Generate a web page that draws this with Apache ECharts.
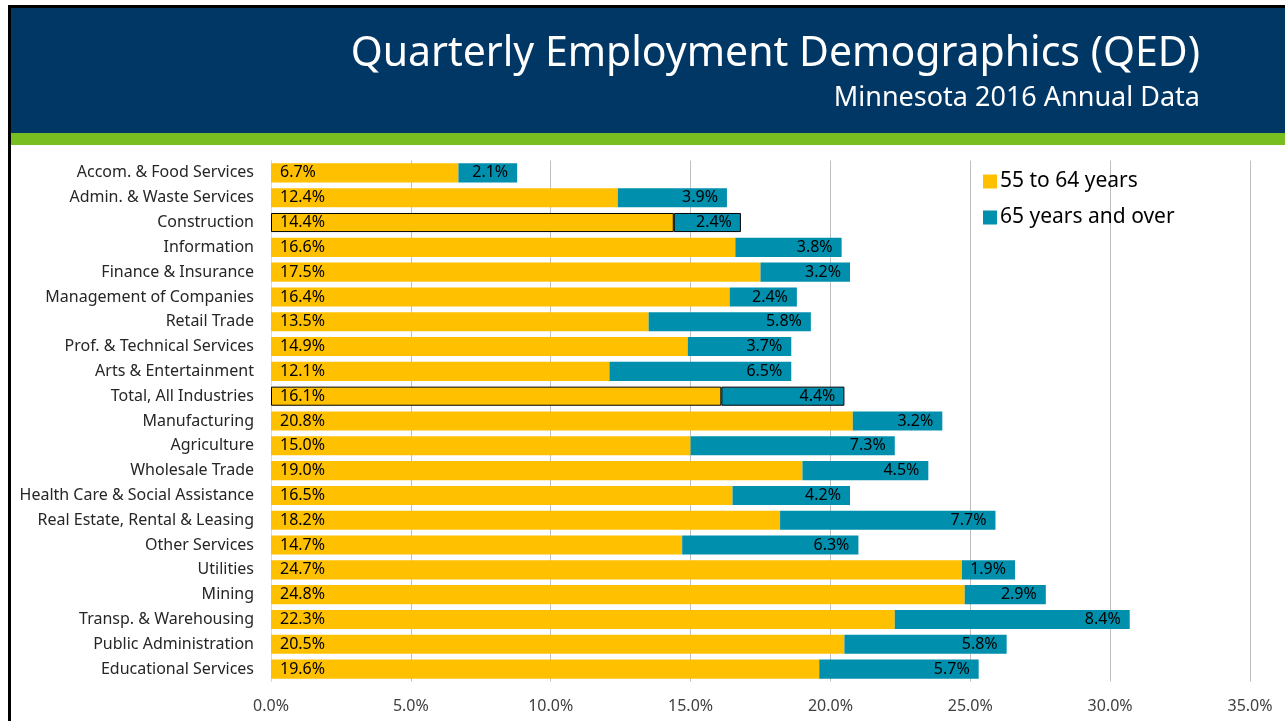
<!DOCTYPE html>
<html>
<head>
<meta charset="utf-8">
<title>Quarterly Employment Demographics (QED)</title>
<script src="https://cdn.jsdelivr.net/npm/echarts@6/dist/echarts.min.js"></script>
<style>
	html, body { margin: 0; padding: 0; background: #fff; }
	#chart { width: 1285px; height: 721px; }
</style>
</head>
<body>
<div id="chart"></div>
<script>
// industries, top to bottom
const industries = [
	"Accom. & Food Services", "Admin. & Waste Services", "Construction", "Information",
	"Finance & Insurance", "Management of Companies", "Retail Trade", "Prof. & Technical Services",
	"Arts & Entertainment", "Total, All Industries", "Manufacturing", "Agriculture",
	"Wholesale Trade", "Health Care & Social Assistance", "Real Estate, Rental & Leasing",
	"Other Services", "Utilities", "Mining", "Transp. & Warehousing", "Public Administration",
	"Educational Services"
];
const age55to64 = [6.7, 12.4, 14.4, 16.6, 17.5, 16.4, 13.5, 14.9, 12.1, 16.1, 20.8, 15.0, 19.0, 16.5, 18.2, 14.7, 24.7, 24.8, 22.3, 20.5, 19.6];
const age65plus = [2.1, 3.9, 2.4, 3.8, 3.2, 2.4, 5.8, 3.7, 6.5, 4.4, 3.2, 7.3, 4.5, 4.2, 7.7, 6.3, 1.9, 2.9, 8.4, 5.8, 5.7];
const seriesNames = ["55 to 64 years", "65 years and over"];
const xTicks = { min: 0, max: 35, step: 5 };
// rows drawn with a black outline
const outlined = ["Construction", "Total, All Industries"];

const FONT = "Noto Sans";
const ORANGE = "#FFC000";
const TEAL = "#008FAD";

function toItems(values) {
	return values.map((v, i) => {
		const item = { value: v };
		if (outlined.indexOf(industries[i]) >= 0) {
			item.itemStyle = { borderColor: "#000", borderWidth: 1 };
		}
		return item;
	});
}
const pct = p => p.value.toFixed(1) + "%";

const myChart = echarts.init(document.getElementById("chart"));
const option = {
	backgroundColor: "#fff",
	animation: false,
	textStyle: { fontFamily: FONT },
	graphic: [
		{ type: "rect", shape: { x: 8, y: 5, width: 1285, height: 3 }, style: { fill: "#000" }, z: 10 },
		{ type: "rect", shape: { x: 8, y: 5, width: 3, height: 721 }, style: { fill: "#000" }, z: 10 },
		{ type: "rect", shape: { x: 10, y: 7, width: 1280, height: 126 }, style: { fill: "#003764" } },
		{ type: "rect", shape: { x: 10, y: 133, width: 1280, height: 12 }, style: { fill: "#78BE21" } },
		{
			type: "text", right: 85, top: 34,
			style: { text: "Quarterly Employment Demographics (QED)", fill: "#fff", font: "41px 'Noto Sans'" }
		},
		{
			type: "text", right: 85, top: 85,
			style: { text: "Minnesota 2016 Annual Data", fill: "#fff", font: "27px 'Noto Sans'" }
		}
	],
	legend: {
		data: seriesNames,
		orient: "vertical",
		left: 978,
		top: 166,
		itemWidth: 14,
		itemHeight: 14,
		itemGap: 15,
		icon: "rect",
		textStyle: { fontSize: 21, color: "#000", fontFamily: FONT, padding: [0, 0, 0, -2] }
	},
	grid: { left: 271, right: 35, top: 160.5, bottom: 39.5, containLabel: false },
	xAxis: {
		type: "value",
		min: xTicks.min,
		max: xTicks.max,
		interval: xTicks.step,
		axisLine: { show: false },
		axisTick: { show: false },
		splitLine: { lineStyle: { color: "#BFBFBF", width: 1 } },
		axisLabel: {
			margin: 17,
			fontSize: 16,
			color: "#404040",
			formatter: v => v.toFixed(1) + "%"
		}
	},
	yAxis: {
		type: "category",
		data: industries,
		inverse: true,
		axisLine: { show: true, lineStyle: { color: "#C9DEF2", width: 1 } },
		axisTick: { show: false },
		axisLabel: { margin: 17, fontSize: 16, color: "#262626" }
	},
	series: [
		{
			name: seriesNames[0],
			type: "bar",
			stack: "age",
			barCategoryGap: "23%",
			itemStyle: { color: ORANGE },
			label: { show: true, position: "insideLeft", distance: 9, formatter: pct, color: "#000", fontSize: 16 },
			data: toItems(age55to64)
		},
		{
			name: seriesNames[1],
			type: "bar",
			stack: "age",
			barCategoryGap: "23%",
			itemStyle: { color: TEAL },
			label: { show: true, position: "insideRight", distance: 9, formatter: pct, color: "#000", fontSize: 16 },
			data: toItems(age65plus)
		}
	]
};
myChart.setOption(option);
</script>
</body>
</html>
